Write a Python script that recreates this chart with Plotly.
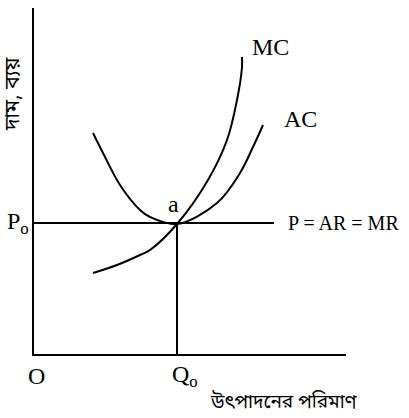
import plotly.graph_objects as go

# Data (economic units: quantity on x, price/cost on y)
mc_q = [60, 84, 107, 117, 144, 175, 194, 204, 209, 209]
mc_p = [82, 90, 100, 105, 131, 175, 215, 255, 288, 298]
ac_q = [60, 70, 87, 107, 117, 144, 184, 207, 220, 230]
ac_p = [222, 202, 170, 145, 138, 131, 152, 182, 208, 230]
price_p0 = 132
q0 = 144
price_line_end = 241
y_axis_top = 347
x_axis_end = 313

FONT = "Liberation Serif, Times New Roman, serif"
BN_FONT = "Noto Sans Bengali, Noto Sans, Noto Sans CJK SC, sans-serif"

fig = go.Figure()
line_style = dict(color="black", width=2)
# Axes
fig.add_trace(go.Scatter(x=[0, 0, x_axis_end], y=[y_axis_top, 0, 0], mode="lines",
                         line=line_style, hoverinfo="skip"))
# Price line P = AR = MR
fig.add_trace(go.Scatter(x=[0, price_line_end], y=[price_p0, price_p0], mode="lines",
                         line=line_style, hoverinfo="skip"))
# Q0 vertical
fig.add_trace(go.Scatter(x=[q0, q0], y=[0, price_p0], mode="lines",
                         line=line_style, hoverinfo="skip"))
# MC
fig.add_trace(go.Scatter(x=mc_q, y=mc_p, mode="lines", line=dict(color="black", width=2, shape="spline"),
                         hoverinfo="skip"))
# AC
fig.add_trace(go.Scatter(x=ac_q, y=ac_p, mode="lines", line=dict(color="black", width=2, shape="spline"),
                         hoverinfo="skip"))

def ann(x, y, text, size=24, font=FONT, xanchor="center", yanchor="middle", angle=0):
    fig.add_annotation(x=x, y=y, text=text, showarrow=False, xanchor=xanchor, yanchor=yanchor,
                       textangle=angle, font=dict(family=font, size=size, color="black"))

ann(mc_q[-1] + 28, mc_p[-1] + 10, "MC")
ann(ac_q[-1] + 37, ac_p[-1] + 6, "AC")
ann(q0 - 4, price_p0 + 19, "a")
ann(price_line_end + 12, price_p0, "P = AR = MR", size=20, xanchor="left")
ann(-15, price_p0, "P<sub>o</sub>")
ann(3, -21, "O")
ann(q0 + 8, -21, "Q<sub>o</sub>")
ann(250, -48, "উৎপাদনের পরিমাণ", size=19, font=BN_FONT)
ann(-19, 261, "দাম, ব্যয়", size=21, font=BN_FONT, angle=-90)

fig.update_layout(
    width=409, height=418, margin=dict(l=0, r=0, t=0, b=0),
    plot_bgcolor="white", paper_bgcolor="white", showlegend=False,
    xaxis=dict(range=[-33, 376], visible=False, fixedrange=True),
    yaxis=dict(range=[-63, 355], visible=False, fixedrange=True),
)
fig.write_html("out.html", config={"displayModeBar": False},
               post_script="document.body.style.margin='0';")
